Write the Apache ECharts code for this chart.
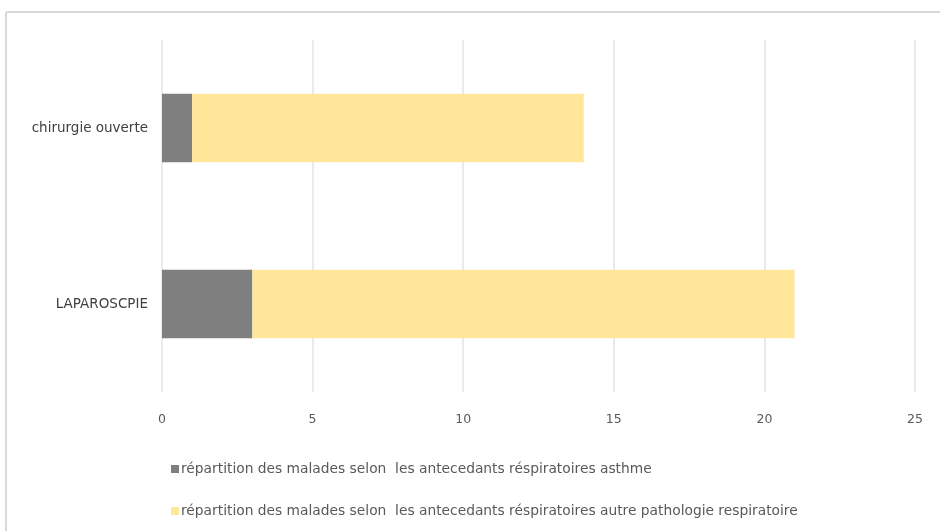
<!DOCTYPE html>
<html>
<head>
<meta charset="utf-8">
<script src="https://cdn.jsdelivr.net/npm/echarts@6/dist/echarts.min.js"></script>
<style>
  html, body { margin: 0; padding: 0; background: #fff; }
  #chart { width: 940px; height: 531px; }
</style>
</head>
<body>
<div id="chart"></div>
<script>
// Surgical approach (category axis runs bottom to top)
const categories = ['LAPAROSCPIE', 'chirurgie ouverte'];
// Patients by respiratory history
const asthme = [3, 1];
const autrePathologie = [18, 13];
const seriesNames = [
  'répartition des malades selon  les antecedants réspiratoires asthme',
  'répartition des malades selon  les antecedants réspiratoires autre pathologie respiratoire'
];
const xTicks = [0, 25, 5]; // min, max, interval

const FONT = '"DejaVu Sans", sans-serif';

const chart = echarts.init(document.getElementById('chart'));
chart.setOption({
  backgroundColor: '#ffffff',
  animation: false,
  textStyle: { fontFamily: FONT },
  graphic: [{
    type: 'rect',
    shape: { x: 6, y: 12, width: 960, height: 560, r: 2 },
    style: { fill: 'none', stroke: '#d9d9d9', lineWidth: 2 },
    silent: true
  }],
  grid: { left: 162, right: 25, top: 40, bottom: 139, containLabel: false },
  xAxis: {
    type: 'value',
    min: xTicks[0], max: xTicks[1], interval: xTicks[2],
    axisLine: { show: false },
    axisTick: { show: false },
    axisLabel: { color: '#595959', fontSize: 12.5, margin: 21, fontFamily: FONT },
    splitLine: { lineStyle: { color: '#e4e4e4', width: 1.5 } }
  },
  yAxis: {
    type: 'category',
    data: categories,
    axisLine: { show: false },
    axisTick: { show: false },
    axisLabel: { color: '#404040', fontSize: 13.5, margin: 14, fontFamily: FONT },
    splitLine: { show: false }
  },
  legend: {
    orient: 'vertical',
    left: 166,
    top: 457,
    itemWidth: 8,
    itemHeight: 8,
    itemGap: 28,
    icon: 'rect',
    textStyle: { color: '#595959', fontSize: 13.8, fontFamily: FONT, padding: [0, 0, 0, -3] },
    data: seriesNames
  },
  series: [
    {
      name: seriesNames[0],
      type: 'bar',
      stack: 'total',
      data: asthme,
      barWidth: '39%',
      itemStyle: { color: '#7f7f7f' }
    },
    {
      name: seriesNames[1],
      type: 'bar',
      stack: 'total',
      data: autrePathologie,
      barWidth: '39%',
      itemStyle: { color: '#ffe699' }
    }
  ]
});
</script>
</body>
</html>
